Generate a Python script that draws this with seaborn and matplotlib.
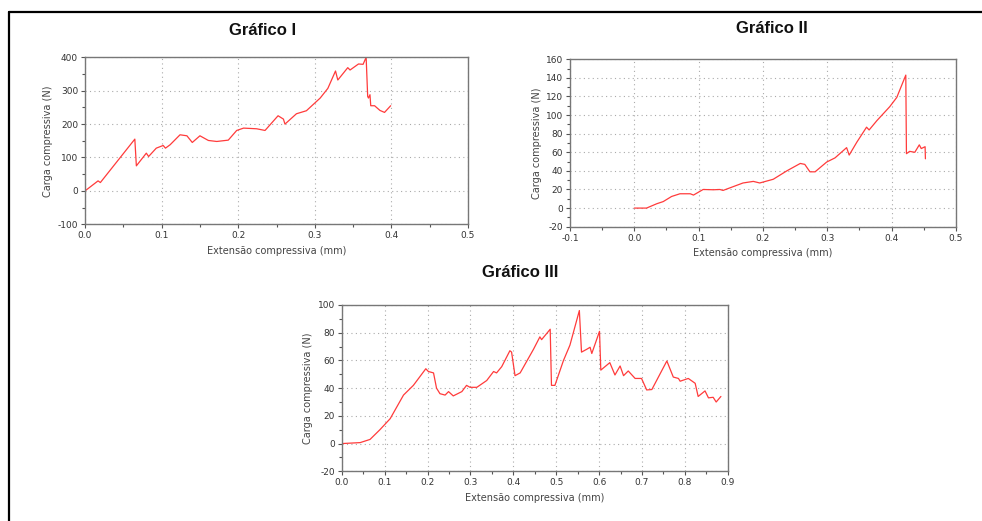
import matplotlib
matplotlib.use('Agg')
import matplotlib.pyplot as plt
from matplotlib.lines import Line2D
from matplotlib.ticker import MultipleLocator
import seaborn as sns
import pandas as pd

# Gráfico I
ext_1 = [0.0, 0.017, 0.020, 0.065, 0.067, 0.080, 0.083, 0.093, 0.102, 0.105, 0.111,
         0.124, 0.133, 0.140, 0.150, 0.161, 0.172, 0.187, 0.198, 0.207, 0.224, 0.235,
         0.252, 0.259, 0.261, 0.276, 0.289, 0.307, 0.317, 0.327, 0.330, 0.343, 0.346,
         0.357, 0.363, 0.367, 0.369, 0.370, 0.372, 0.373, 0.378, 0.385, 0.391, 0.399]
carga_1 = [0, 30, 25, 155, 75, 113, 103, 128, 136, 128, 138,
           168, 165, 145, 165, 151, 148, 152, 181, 188, 186, 181,
           225, 215, 200, 231, 240, 278, 307, 359, 332, 369, 362,
           380, 379, 400, 283, 278, 288, 255, 255, 241, 235, 255]

# Gráfico II
ext_2 = [0.0, 0.019, 0.035, 0.045, 0.058, 0.071, 0.087, 0.092, 0.107, 0.123, 0.133,
         0.138, 0.169, 0.185, 0.195, 0.216, 0.237, 0.258, 0.265, 0.273, 0.281, 0.299,
         0.312, 0.330, 0.334, 0.346, 0.361, 0.365, 0.377, 0.397, 0.408, 0.422, 0.423,
         0.428, 0.436, 0.443, 0.446, 0.452, 0.4525]
carga_2 = [0, 0, 4.7, 7, 12.5, 15.4, 15.4, 14, 20, 19.7, 20,
           19, 27, 28.7, 27, 31, 40, 48, 47, 39, 39, 49.5,
           54, 65, 57, 71, 87, 84, 94, 109, 119, 143, 58.5,
           61, 60, 68, 64, 66, 53]

# Gráfico III
ext_3 = [0.0, 0.043, 0.066, 0.089, 0.113, 0.144, 0.167, 0.196, 0.202, 0.214, 0.221,
         0.229, 0.241, 0.249, 0.260, 0.280, 0.291, 0.299, 0.315, 0.338, 0.354, 0.361,
         0.373, 0.392, 0.396, 0.404, 0.416, 0.447, 0.462, 0.466, 0.486, 0.489, 0.497,
         0.517, 0.532, 0.554, 0.559, 0.571, 0.579, 0.583, 0.601, 0.604, 0.625, 0.637,
         0.649, 0.657, 0.668, 0.684, 0.699, 0.711, 0.723, 0.758, 0.773, 0.785, 0.789,
         0.808, 0.824, 0.831, 0.847, 0.855, 0.866, 0.873, 0.884]
carga_3 = [0, 0.7, 3, 10, 18, 35, 42, 54, 52, 51, 40,
           36, 35, 37.5, 34.4, 37.5, 42, 40.6, 40.6, 45.5, 52, 51,
           55.5, 67, 66, 49, 51, 68, 77, 75, 82.5, 42, 42,
           60, 71, 96, 66, 68, 69.5, 65, 81, 53, 58.4, 49.5,
           56, 49, 52.4, 47, 47, 38.7, 39, 59.6, 48, 47, 45,
           47, 43.5, 34, 38, 33, 33.4, 30, 34]

sns.set_style('white')
plt.rcParams['font.family'] = ['DejaVu Sans']
plt.rcParams['axes.unicode_minus'] = False

fig = plt.figure(figsize=(9.82, 5.21), dpi=100)

panels = [
    ('Gráfico I', ext_1, carga_1, [0.0866, 0.5695, 0.390, 0.3205],
     (0.0, 0.5), (-100, 400), 100, 50, (0.267, 0.942)),
    ('Gráfico II', ext_2, carga_2, [0.5804, 0.5649, 0.3931, 0.3213],
     (-0.1, 0.5), (-20, 160), 20, 10, (0.786, 0.946)),
    ('Gráfico III', ext_3, carga_3, [0.348, 0.0954, 0.3931, 0.3192],
     (0.0, 0.9), (-20, 100), 20, 10, (0.530, 0.477)),
]

for title, x, y, rect, xlim, ylim, ymaj, ymin, tpos in panels:
    ax = fig.add_axes(rect)
    df = pd.DataFrame({'ext': x, 'carga': y})
    sns.lineplot(data=df, x='ext', y='carga', ax=ax, color='#ff3b3b',
                 linewidth=0.9, estimator=None, sort=False)
    ax.set_xlim(*xlim)
    ax.set_ylim(*ylim)
    ax.xaxis.set_major_locator(MultipleLocator(0.1))
    ax.xaxis.set_minor_locator(MultipleLocator(0.05))
    ax.yaxis.set_major_locator(MultipleLocator(ymaj))
    ax.yaxis.set_minor_locator(MultipleLocator(ymin))
    ax.xaxis.set_major_formatter(plt.FormatStrFormatter('%.1f'))
    ax.grid(True, which='major', linestyle=(0, (1, 3)), color='#aaaaaa', linewidth=0.8)
    ax.tick_params(which='major', direction='out', length=3, width=0.8,
                   color='#555555', labelsize=6.5, labelcolor='#333333', pad=2,
                   bottom=True, left=True)
    ax.tick_params(which='minor', direction='out', length=2, width=0.8,
                   color='#555555', bottom=True, left=True)
    for s in ax.spines.values():
        s.set_color('#777777')
        s.set_linewidth(1.0)
    ax.set_xlabel('Extensão compressiva (mm)', fontsize=7, color='#444444', labelpad=4)
    ax.set_ylabel('Carga compressiva (N)', fontsize=7, color='#444444', labelpad=3)
    fig.text(tpos[0], tpos[1], title, ha='center', va='center',
             fontsize=12, fontweight='bold', color='#111111',
             family=['Liberation Sans', 'DejaVu Sans'])

# frame lines at the top and left of the picture
fig.add_artist(Line2D([9 / 982, 1.0], [1 - 12 / 521, 1 - 12 / 521],
                      transform=fig.transFigure, color='black', linewidth=1.6))
fig.add_artist(Line2D([9 / 982, 9 / 982], [0.0, 1 - 12 / 521],
                      transform=fig.transFigure, color='black', linewidth=1.6))

fig.savefig('out.png', dpi=100)
